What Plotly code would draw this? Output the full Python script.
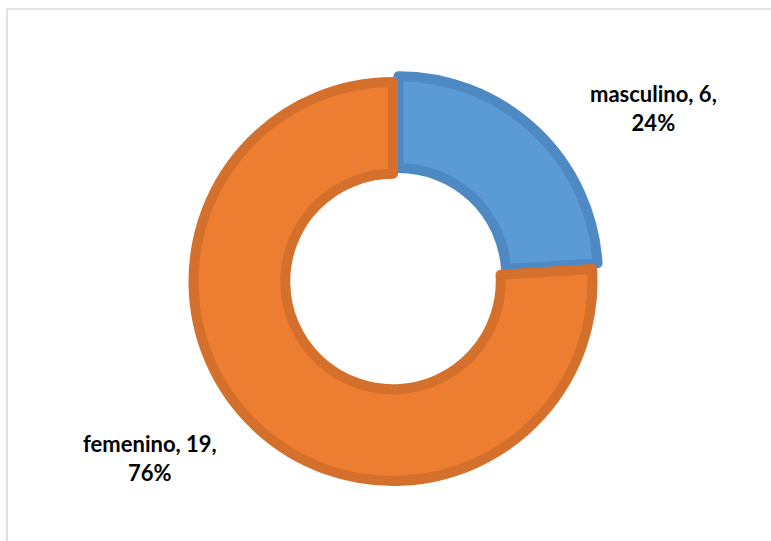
import plotly.graph_objects as go

categories = ["masculino", "femenino"]
counts = [6, 19]
fill_colors = ["#5B9BD5", "#ED7D31"]
line_colors = ["#4F89C3", "#D4702B"]
pulls = [0.04, 0.0]

total = sum(counts)
labels_text = [f"{c}, {v},<br>{round(100 * v / total)}%" for c, v in zip(categories, counts)]

W, H = 771, 541
cx, cy, R = 393, 281.5, 199.5
half = R * (1 + max(pulls))

fig = go.Figure(go.Pie(
    labels=categories,
    values=counts,
    hole=0.54,
    sort=False,
    direction="clockwise",
    rotation=0,
    pull=pulls,
    marker=dict(colors=fill_colors, line=dict(color=line_colors, width=10)),
    textinfo="none",
    hoverinfo="label+value+percent",
    showlegend=False,
    domain=dict(x=[(cx - half) / W, (cx + half) / W],
                y=[(H - cy - half) / H, (H - cy + half) / H]),
))

label_pos = [(653, 108), (149.5, 458)]
for txt, (x, y) in zip(labels_text, label_pos):
    fig.add_annotation(x=x / W, y=1 - y / H, xref="paper", yref="paper",
                       text=f"<b>{txt}</b>", showarrow=False, align="center",
                       font=dict(family="Lato", size=22, color="#000000"),
                       xanchor="center", yanchor="middle")

frame = "#D9D9D9"
fig.add_shape(type="line", xref="paper", yref="paper", x0=7 / W, x1=7 / W, y0=0, y1=1 - 9 / H,
              line=dict(color=frame, width=1.5))
fig.add_shape(type="line", xref="paper", yref="paper", x0=7 / W, x1=1, y0=1 - 9 / H, y1=1 - 9 / H,
              line=dict(color=frame, width=1.5))

fig.update_layout(width=W, height=H, margin=dict(l=0, r=0, t=0, b=0),
                  paper_bgcolor="white", plot_bgcolor="white")
fig.write_html("out.html", config={"displayModeBar": False},
               post_script="document.body.style.margin='0';")
